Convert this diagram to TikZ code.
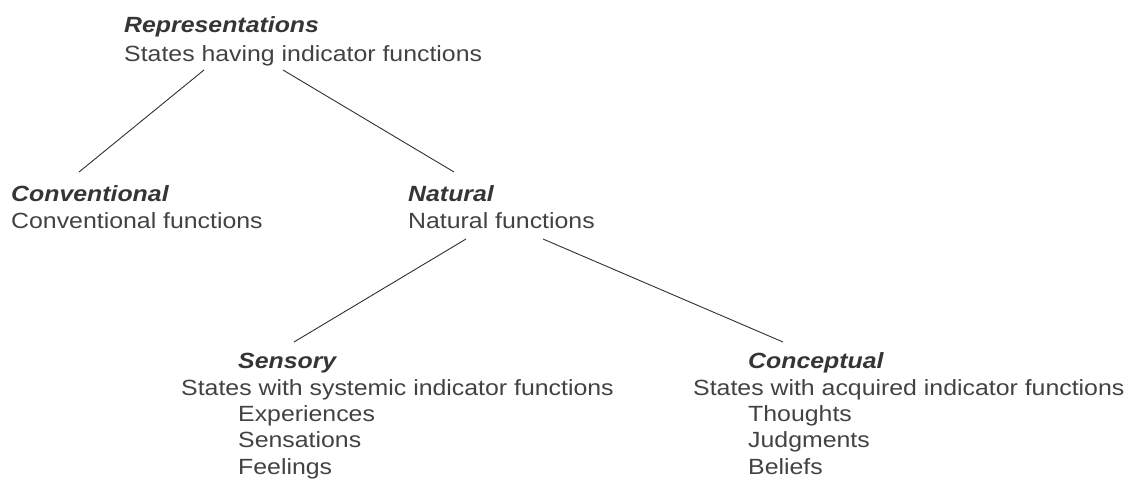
\documentclass[tikz,border=0pt]{standalone}
\usepackage{fontspec}
\setmainfont[FakeStretch=1.13]{Liberation Sans}
\definecolor{txt}{HTML}{424242}
\definecolor{ttl}{HTML}{353535}
\definecolor{ln}{HTML}{303030}
\begin{document}
\begin{tikzpicture}[x=1pt,y=-1pt,
  every node/.style={inner sep=0pt,anchor=base west,font=\fontsize{22}{26}\selectfont},
  lbl/.style={text=txt},
  ttlbl/.style={text=ttl,font=\fontsize{22}{26}\selectfont\bfseries\itshape},
  conn/.style={draw=ln,line width=0.9pt}]
\useasboundingbox (0,0) rectangle (1131,483);
% Representations
\node[ttlbl] (rep) at (124,32) {Representations};
\node[lbl] (repd) at (124,61) {States having indicator functions};
% Conventional
\node[ttlbl] (conv) at (11,201) {Conventional};
\node[lbl] (convd) at (11,228) {Conventional functions};
% Natural
\node[ttlbl] (nat) at (408,201) {Natural};
\node[lbl] (natd) at (408,228) {Natural functions};
% Sensory
\node[ttlbl] (sens) at (238,368) {Sensory};
\node[lbl] (sensd) at (181,395) {States with systemic indicator functions};
\node[lbl] (exp) at (238,421) {Experiences};
\node[lbl] (sen) at (238,447) {Sensations};
\node[lbl] (fee) at (238,474) {Feelings};
% Conceptual
\node[ttlbl] (conc) at (748,368) {Conceptual};
\node[lbl] (concd) at (693,395) {States with acquired indicator functions};
\node[lbl] (tho) at (748,421) {Thoughts};
\node[lbl] (jud) at (748,447) {Judgments};
\node[lbl] (bel) at (748,474) {Beliefs};
% connector end points
\coordinate (repL) at (204,70);
\coordinate (repR) at (283,70);
\coordinate (convT) at (79,172);
\coordinate (natT) at (454,172);
\coordinate (natL) at (466,239);
\coordinate (natR) at (543,239);
\coordinate (sensT) at (294,342);
\coordinate (concT) at (783,342);
\draw[conn] (repL) -- (convT);
\draw[conn] (repR) -- (natT);
\draw[conn] (natL) -- (sensT);
\draw[conn] (natR) -- (concT);
\end{tikzpicture}
\end{document}
